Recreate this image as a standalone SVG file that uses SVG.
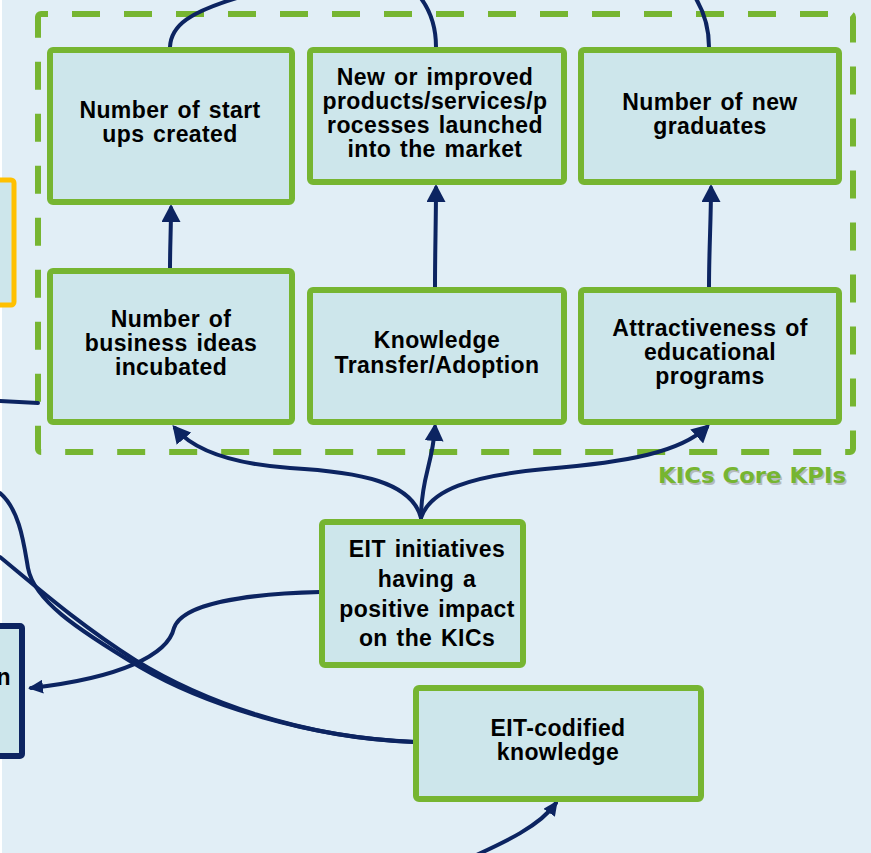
<svg xmlns="http://www.w3.org/2000/svg" width="871" height="853" viewBox="0 0 871 853">
<defs>
<style>
.bg{fill:#e1eef6}
.box rect{fill:#cde6eb;stroke:#76b531;stroke-width:6}
.t{font-family:"Liberation Sans",Arial,sans-serif;font-weight:bold;font-size:23px;fill:#000;text-anchor:middle;letter-spacing:0.4px;word-spacing:2px}
.c path{fill:none;stroke:#0c2461;stroke-width:4;stroke-linecap:round}
</style>
<marker id="ah" markerUnits="userSpaceOnUse" markerWidth="18" markerHeight="19" refX="14" refY="9.5" orient="auto">
<path d="M0,0 L18,9.5 L0,19 z" fill="#0c2461"/>
</marker>
<marker id="as" markerUnits="userSpaceOnUse" markerWidth="15" markerHeight="14" refX="12" refY="7" orient="auto">
<path d="M0,0 L15,7 L0,14 z" fill="#0c2461"/>
</marker>
</defs>
<rect x="0" y="0" width="871" height="853" fill="#ffffff"/>
<rect class="bg" x="2" y="0" width="869" height="853"/>

<g id="kics-frame">
<rect x="38" y="14" width="815" height="438" rx="3" fill="none" stroke="#76b531" stroke-width="6" stroke-dasharray="28 24" stroke-dashoffset="21"/>
<text x="752" y="483" font-family="DejaVu Sans,Verdana,sans-serif" font-weight="bold" font-size="21" fill="#888" opacity="0.5" text-anchor="middle" textLength="188" lengthAdjust="spacingAndGlyphs" transform="translate(1.5,1.5)">KICs Core KPIs</text>
<text x="752" y="483" font-family="DejaVu Sans,Verdana,sans-serif" font-weight="bold" font-size="21" fill="#76b531" text-anchor="middle" textLength="188" lengthAdjust="spacingAndGlyphs">KICs Core KPIs</text>
</g>

<g id="left-orange">
<rect x="-40" y="180" width="54" height="125" rx="3" fill="#cde6eb" stroke="#ffc000" stroke-width="5"/>
</g>
<g id="left-navy">
<rect x="-40" y="626" width="62" height="130" rx="2" fill="#cde6eb" stroke="#0c2461" stroke-width="6"/>
<text class="t" x="11" y="685" style="text-anchor:end">n</text>
</g>

<g class="c" id="connectors">
<path d="M170,47 C171,25 190,12 240,-3"/>
<path d="M436,47 C436,25 430,10 420,-3"/>
<path d="M709,47 C709,25 703,10 695,-3"/>
<path d="M0,401 L38,403"/>
<path d="M170,270 C170,245 171,230 171,208" marker-end="url(#ah)"/>
<path d="M435,287 C435,250 436,220 436,188" marker-end="url(#ah)"/>
<path d="M709,287 C709,250 711,220 711,188" marker-end="url(#ah)"/>
<path d="M421,518 C412,482 360,472 290,468 C235,464 195,452 175,428" marker-end="url(#ah)"/>
<path d="M421,518 C421,495 425,480 428,468 C432,452 434,442 435,427" marker-end="url(#ah)"/>
<path d="M421,518 C430,490 470,476 545,469 C630,462 680,452 707,427" marker-end="url(#ah)"/>
<path d="M320,592 C240,594 182,605 174,628 C168,655 120,678 31,688" marker-end="url(#as)"/>
<path d="M0,557 C40,590 80,625 135,660 C200,700 300,738 415,742"/>
<path d="M0,493 C20,510 24,545 28,568 C34,600 75,628 140,667 C205,705 310,738 415,742"/>
<path d="M470,858 C505,842 540,826 556,803" marker-end="url(#as)"/>
</g>

<g id="n-startups" class="box">
<rect x="50" y="50" width="242" height="152" rx="3"/>
<text class="t" x="170" y="118">Number of start</text>
<text class="t" x="170" y="142">ups created</text>
</g>
<g id="n-products" class="box">
<rect x="310" y="50" width="254" height="132" rx="3"/>
<text class="t" x="435" y="85">New or improved</text>
<text class="t" x="435" y="109">products/services/p</text>
<text class="t" x="435" y="133">rocesses launched</text>
<text class="t" x="435" y="157">into the market</text>
</g>
<g id="n-graduates" class="box">
<rect x="581" y="50" width="258" height="132" rx="3"/>
<text class="t" x="710" y="110">Number of new</text>
<text class="t" x="710" y="134">graduates</text>
</g>
<g id="n-ideas" class="box">
<rect x="50" y="271" width="242" height="151" rx="3"/>
<text class="t" x="171" y="327">Number of</text>
<text class="t" x="171" y="351">business ideas</text>
<text class="t" x="171" y="375">incubated</text>
</g>
<g id="n-transfer" class="box">
<rect x="310" y="290" width="254" height="132" rx="3"/>
<text class="t" x="437" y="348">Knowledge</text>
<text class="t" x="437" y="373">Transfer/Adoption</text>
</g>
<g id="n-attract" class="box">
<rect x="581" y="290" width="258" height="132" rx="3"/>
<text class="t" x="710" y="336">Attractiveness of</text>
<text class="t" x="710" y="360">educational</text>
<text class="t" x="710" y="384">programs</text>
</g>
<g id="n-eit-initiatives" class="box">
<rect x="322" y="522" width="201" height="143" rx="3"/>
<text class="t" x="427" y="557">EIT initiatives</text>
<text class="t" x="427" y="587">having a</text>
<text class="t" x="427" y="617">positive impact</text>
<text class="t" x="427" y="646">on the KICs</text>
</g>
<g id="n-codified" class="box">
<rect x="416" y="688" width="285" height="111" rx="3"/>
<text class="t" x="558" y="736">EIT-codified</text>
<text class="t" x="558" y="760">knowledge</text>
</g>
</svg>
